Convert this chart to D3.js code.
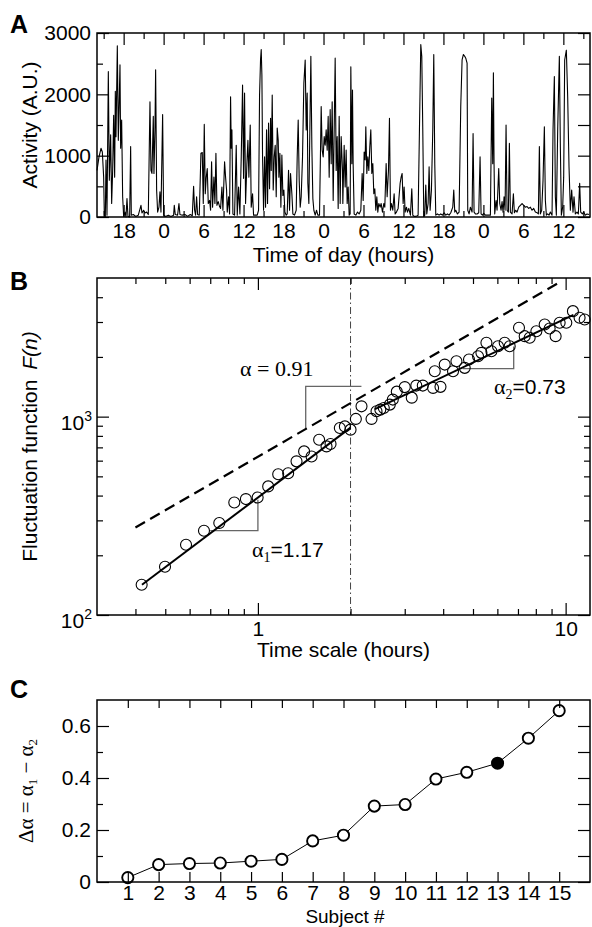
<!DOCTYPE html>
<html><head><meta charset="utf-8">
<script src="https://cdn.jsdelivr.net/npm/d3@7"></script>
<style>
body{margin:0;background:#fff}
svg text{font-family:"Liberation Sans",Arial,Helvetica,sans-serif;fill:#000}
.tick text{font-size:21px}
.serif{font-family:"Liberation Serif","Times New Roman",serif !important}
</style></head><body>
<svg id="chart" width="592" height="927"></svg>
<script>
// ---------- Panel A : activity time series ----------
const activityHours = [
14.0,14.3,14.6,14.8,15.0,15.1,15.25,15.35,15.5,15.7,
15.85,16.05,16.2,16.35,16.5,16.65,16.75,16.85,17.05,17.2,
17.35,17.45,17.55,17.7,17.85,18.0,18.2,18.35,18.5,18.65,
18.9,19.05,19.15,19.45,19.8,20.2,20.6,20.75,21.0,21.2,
21.45,21.7,21.95,22.1,22.25,22.45,22.55,22.7,22.8,22.95,
23.1,23.3,23.45,23.6,23.85,24.0,24.3,24.7,25.1,25.5,
25.6,25.75,26.1,26.3,26.45,26.8,27.2,27.6,28.0,28.3,
28.5,28.65,28.8,28.95,29.1,29.35,29.6,29.8,29.95,30.1,
30.25,30.4,30.55,30.7,30.9,31.05,31.2,31.35,31.55,31.7,
31.85,32.0,32.2,32.4,
32.55,32.75,32.9,33.15,33.3,33.45,33.55,33.75,33.9,34.05,
34.15,34.25,34.4,34.65,34.9,35.05,35.25,35.45,35.65,35.85,
36.0,36.15,36.3,36.5,36.65,36.8,37.0,37.15,37.35,37.5,
37.75,38.05,38.25,38.4,38.55,38.65,38.75,38.85,39.0,39.15,
39.3,39.45,39.6,39.75,39.9,40.05,40.15,40.3,40.45,40.6,
40.75,40.9,41.05,41.2,41.3,41.45,41.6,41.75,41.9,42.05,
42.2,42.4,42.55,42.75,42.9,43.05,43.25,43.4,43.65,43.9,
44.05,44.2,44.35,44.5,44.65,44.85,45.05,45.25,45.4,45.55,
45.65,45.8,45.95,46.1,46.25,46.4,46.55,46.75,46.95,47.15,
47.4,47.65,47.8,47.95,48.1,48.25,48.4,48.55,48.7,48.85,
49.0,49.15,49.3,49.45,49.6,49.75,49.9,50.05,50.2,50.35,
50.5,50.65,50.85,
50.9,51.1,51.25,51.4,51.55,51.7,51.85,52.0,52.1,52.25,
52.35,52.45,52.6,52.85,53.1,53.35,53.6,53.8,53.95,54.1,
54.25,54.35,54.5,54.65,54.8,54.95,55.1,55.25,55.4,55.55,
55.7,55.85,56.0,56.15,56.3,56.5,56.65,56.85,57.05,57.2,
57.4,57.55,57.75,57.9,58.05,58.2,58.4,58.6,58.75,58.95,
59.2,59.5,59.65,59.8,59.95,60.1,60.25,60.45,60.6,60.8,
61.05,61.25,61.4,61.6,61.9,62.2,62.4,62.6,62.75,62.9,
63.05,63.2,63.35,63.5,63.7,63.85,64.0,64.2,64.4,64.55,
64.7,64.85,65.1,65.35,65.6,65.85,66.1,66.35,66.6,66.85,
67.1,67.4,67.55,67.7,67.85,68.1,68.35,68.6,68.8,69.0,
69.2,
69.35,69.55,69.65,69.85,70.05,70.3,70.45,70.6,70.8,71.05,
71.3,71.5,71.65,71.85,72.05,72.3,72.65,73.05,73.25,73.4,
73.5,73.6,73.7,73.9,74.05,74.3,74.45,74.65,74.8,74.95,
75.1,75.25,75.4,75.55,75.75,75.9,76.05,76.3,76.5,76.65,
76.85,77.05,77.3,77.55,77.8,78.05,78.3,78.55,78.8,79.05,
79.3,79.55,79.8,80.05,80.25,80.4,80.55,80.75,80.95,81.15,
81.3,81.45,81.65,81.85,82.05,82.3,82.45,82.65,82.8,82.95,
83.15,83.4,83.55,83.7,83.9,84.05,84.2,84.45,84.65,84.85,
85.05,85.25,85.45,85.6,85.8,86.05,86.25,86.45,86.6,86.85,
87.05,87.3,87.55,87.85
];
const activityValues = [
760,980,1120,1060,650,30,0,930,30,2370,
600,1340,220,760,1660,650,2050,1310,2790,1250,
1960,2480,1120,1580,330,10,80,0,300,10,
0,1150,30,40,10,30,190,65,110,65,
80,40,1880,760,710,1640,710,1420,2400,440,
80,160,410,80,1670,30,10,30,10,30,
190,40,30,220,40,30,40,10,40,20,
500,110,30,330,40,30,1040,1050,220,1510,
380,650,790,220,270,110,900,160,650,220,
1040,190,250,170,
140,490,110,900,650,440,80,330,50,1960,
1120,1420,50,30,1170,30,490,50,980,2150,
630,2020,220,870,1250,650,1500,160,380,30,
30,30,110,1990,2570,2730,2320,980,110,980,
160,1420,220,1530,460,1610,760,1990,440,980,
1170,330,1450,1250,650,1040,160,1010,350,440,
80,30,50,760,110,710,380,50,30,110,
980,1580,600,160,330,980,2180,2560,1420,2020,
550,220,1420,2620,1150,300,110,30,110,30,
30,1800,1090,980,1310,1170,1420,1090,1640,650,
1750,870,1880,270,1420,2590,760,1310,140,1640,
220,1310,760,
220,1170,490,1090,220,490,30,50,2450,870,
2070,850,50,30,80,50,110,710,270,1060,
930,1470,710,980,760,1150,1420,710,870,380,
460,110,330,80,220,160,220,80,220,160,
870,330,760,1610,110,220,110,380,50,80,
140,550,650,710,220,490,80,160,80,140,
30,460,30,10,10,30,1420,2810,2620,1420,
10,30,520,50,220,820,110,440,1420,2650,
870,30,50,30,50,30,70,30,50,30,
70,160,440,80,110,50,80,1800,2560,2650,
2620,
2590,2510,110,50,160,80,1360,80,50,50,
70,980,50,30,60,30,30,30,1940,870,
2350,850,50,270,110,790,220,110,250,80,
330,110,1500,110,80,1200,80,50,380,70,
110,80,160,190,220,190,160,170,140,160,
110,140,80,70,50,1150,50,110,600,1470,
270,30,50,30,80,30,1420,2290,330,30,
1420,2620,1150,30,160,650,2560,2720,1960,820,
110,440,80,330,50,80,50,550,80,50,
80,30,50,40
];
const activityXTicks = [18,24,30,36,42,48,54,60,66,72,78,84];
const activityXLabels = ["18","0","6","12","18","0","6","12","18","0","6","12"];
const activityXMinor = [15,21,27,33,39,45,51,57,63,69,75,81,87];
const activityYTicks = [0,1000,2000,3000];
const activityYMinor = [500,1500,2500];

// ---------- Panel B : DFA fluctuation function ----------
const dfaHours = [
0.419,0.499,0.584,0.668,0.749,0.838,0.914,0.998,1.080,1.164,
1.254,1.335,1.413,1.494,1.581,1.671,1.722,1.846,1.917,2.0,
2.081,2.171,2.340,2.429,2.499,2.565,2.683,2.744,2.827,3.001,
3.162,3.271,3.434,3.709,3.756,3.920,4.047,4.306,4.417,4.699,
4.853,5.192,5.325,5.528,5.739,6.029,6.338,6.580,7.054,7.361,
7.641,8.033,8.549,8.872,9.279,9.561,10.05,10.56,11.10,11.53];
const dfaF = [
142,175,226,266,291,369,384,391,445,512,
518,595,668,630,765,708,728,877,893,860,
974,1127,974,1064,1085,1106,1150,1219,1337,1409,
1247,1434,1434,1396,1693,1413,1830,1693,1902,1762,
1941,2016,2097,2356,2137,2265,2356,2265,2805,2545,
2498,2697,2915,2783,2545,2973,2973,3403,3152,3091];
const fit1Hours = [0.42, 2.0],  fit1F = [142, 880];
const fit2Hours = [2.4, 10.6],  fit2F = [1090, 3260];
const refHours  = [0.4, 9.6],   refF  = [276, 4780];
const tri1Hours = [0.7, 1, 1],       tri1F = [266, 266, 381];
const tri2Hours = [1.43, 1.43, 2.17], tri2F = [860, 1422, 1422];
const tri3Hours = [4.63, 6.78, 6.78], tri3F = [1747, 1747, 2257];
const crossoverHours = 2;
const dfaXTicks = [1, 10];
const dfaXLabels = ["1", "10"];
const dfaXMinor = [0.4,0.5,0.6,0.7,0.8,0.9,2,3,4,5,6,7,8,9];
const dfaYTicks = [100, 1000];
const dfaYExponents = ["2", "3"];
const dfaYMinor = [200,300,400,500,600,700,800,900,2000,3000,4000];

// ---------- Panel C : delta alpha per subject ----------
const subjects = [1,2,3,4,5,6,7,8,9,10,11,12,13,14,15];
const deltaAlpha = [0.017,0.067,0.071,0.073,0.080,0.087,0.158,0.180,0.292,0.298,0.396,0.422,0.457,0.553,0.659];
const highlightedSubject = 13;
const deltaYTicks = [0, 0.2, 0.4, 0.6];
const deltaYLabels = ["0", "0.2", "0.4", "0.6"];
const deltaYMinor = [0.1, 0.3, 0.5];

// ================= drawing =================
const svg = d3.select('#chart');

function ax(g, axis, tr) {
  const a = g.append('g').attr('transform', tr).call(axis);
  a.select('.domain').remove();
  a.selectAll('.tick line').attr('stroke', '#000').attr('stroke-width', 1.2);
  return a;
}
function frame(g, x0, y0, x1, y1) {
  g.append('rect').attr('x', x0).attr('y', y0).attr('width', x1 - x0).attr('height', y1 - y0)
    .attr('fill', 'none').attr('stroke', '#000').attr('stroke-width', 1.5);
}
function panelLabel(t, x, y) {
  svg.append('text').attr('x', x).attr('y', y).attr('font-size', 25).attr('font-weight', 'bold').text(t);
}

// ----- A -----
const A = {l: 97, r: 590, t: 33, b: 217};
const xA = d3.scaleLinear().domain([14, 88]).range([A.l, A.r]);
const yA = d3.scaleLinear().domain([0, 3000]).range([A.b, A.t]);
const gA = svg.append('g');
gA.append('path').datum(d3.range(activityHours.length))
  .attr('fill', 'none').attr('stroke', '#000').attr('stroke-width', 1.1).attr('stroke-linejoin', 'round')
  .attr('d', d3.line().x(i => xA(activityHours[i])).y(i => yA(activityValues[i])));
ax(gA, d3.axisBottom(xA).tickValues(activityXTicks).tickSize(-12).tickPadding(6)
  .tickFormat(d => activityXLabels[activityXTicks.indexOf(d)]), `translate(0,${A.b})`);
ax(gA, d3.axisBottom(xA).tickValues(activityXMinor).tickSize(-6).tickFormat(''), `translate(0,${A.b})`);
ax(gA, d3.axisTop(xA).tickValues(activityXTicks).tickSize(-12).tickFormat(''), `translate(0,${A.t})`);
ax(gA, d3.axisTop(xA).tickValues(activityXMinor).tickSize(-6).tickFormat(''), `translate(0,${A.t})`);
ax(gA, d3.axisLeft(yA).tickValues(activityYTicks).tickSize(-12).tickPadding(6).tickFormat(d3.format('d')), `translate(${A.l},0)`);
ax(gA, d3.axisLeft(yA).tickValues(activityYMinor).tickSize(-6).tickFormat(''), `translate(${A.l},0)`);
ax(gA, d3.axisRight(yA).tickValues(activityYTicks.concat(activityYMinor)).tickSize(-12).tickFormat(''), `translate(${A.r},0)`);
frame(gA, A.l, A.t, A.r, A.b);
gA.append('text').attr('x', (A.l + A.r) / 2).attr('y', 262).attr('text-anchor', 'middle').attr('font-size', 21).text('Time of day (hours)');
gA.append('text').attr('transform', `translate(37,${(A.t + A.b) / 2}) rotate(-90)`).attr('text-anchor', 'middle').attr('font-size', 21).text('Activity (A.U.)');
panelLabel('A', 10, 33);

// ----- B -----
const B = {l: 97, r: 590, t: 278, b: 615};
const xB = d3.scaleLog().domain([0.3, 12]).range([B.l, B.r]);
const yB = d3.scaleLog().domain([100, 5000]).range([B.b, B.t]);
const gB = svg.append('g');
const lineB = (xs, ys) => d3.line().x(i => xB(xs[i])).y(i => yB(ys[i]))(d3.range(xs.length));
gB.append('line').attr('x1', xB(crossoverHours)).attr('x2', xB(crossoverHours)).attr('y1', B.t).attr('y2', B.b)
  .attr('stroke', '#444').attr('stroke-width', 1).attr('stroke-dasharray', '7,3,1.5,3');
[[tri1Hours, tri1F], [tri2Hours, tri2F], [tri3Hours, tri3F]].forEach(([xs, ys]) => {
  gB.append('path').attr('d', lineB(xs, ys)).attr('fill', 'none').attr('stroke', '#666').attr('stroke-width', 1.3);
});
gB.append('path').attr('d', lineB(refHours, refF)).attr('fill', 'none').attr('stroke', '#000')
  .attr('stroke-width', 2.2).attr('stroke-dasharray', '11,6');
gB.append('path').attr('d', lineB(fit1Hours, fit1F)).attr('fill', 'none').attr('stroke', '#000').attr('stroke-width', 2);
gB.append('path').attr('d', lineB(fit2Hours, fit2F)).attr('fill', 'none').attr('stroke', '#000').attr('stroke-width', 2);
gB.selectAll('circle.pt').data(d3.range(dfaHours.length)).enter().append('circle')
  .attr('cx', i => xB(dfaHours[i])).attr('cy', i => yB(dfaF[i])).attr('r', 5.5)
  .attr('fill', 'none').attr('stroke', '#000').attr('stroke-width', 1.1);
ax(gB, d3.axisBottom(xB).tickValues(dfaXTicks).tickSize(-12).tickPadding(6)
  .tickFormat(d => dfaXLabels[dfaXTicks.indexOf(d)]), `translate(0,${B.b})`);
ax(gB, d3.axisBottom(xB).tickValues(dfaXMinor).tickSize(-6).tickFormat(''), `translate(0,${B.b})`);
ax(gB, d3.axisTop(xB).tickValues(dfaXTicks).tickSize(-12).tickFormat(''), `translate(0,${B.t})`);
ax(gB, d3.axisTop(xB).tickValues(dfaXMinor).tickSize(-6).tickFormat(''), `translate(0,${B.t})`);
ax(gB, d3.axisLeft(yB).tickValues(dfaYTicks).tickSize(-12).tickFormat(''), `translate(${B.l},0)`);
ax(gB, d3.axisLeft(yB).tickValues(dfaYMinor).tickSize(-6).tickFormat(''), `translate(${B.l},0)`);
ax(gB, d3.axisRight(yB).tickValues(dfaYTicks).tickSize(-12).tickFormat(''), `translate(${B.r},0)`);
ax(gB, d3.axisRight(yB).tickValues(dfaYMinor).tickSize(-6).tickFormat(''), `translate(${B.r},0)`);
dfaYTicks.forEach((v, i) => {
  const t = gB.append('text').attr('x', 92).attr('y', yB(v) + 13).attr('text-anchor', 'end').attr('font-size', 21);
  t.append('tspan').text('10');
  t.append('tspan').attr('dy', -9).attr('font-size', 14).text(dfaYExponents[i]);
});
frame(gB, B.l, B.t, B.r, B.b);
gB.append('text').attr('x', (B.l + B.r) / 2).attr('y', 657).attr('text-anchor', 'middle').attr('font-size', 21).text('Time scale (hours)');
const tB = gB.append('text').attr('transform', `translate(37,${(B.t + B.b) / 2}) rotate(-90)`).attr('text-anchor', 'middle').attr('font-size', 21);
tB.append('tspan').text('Fluctuation function');
tB.append('tspan').attr('dx', 10).attr('font-style', 'italic').text('F(n)');
// annotations
gB.append('text').attr('class', 'serif').attr('x', 240).attr('y', 376).attr('font-size', 22).text('α = 0.91');
const a1 = gB.append('text').attr('x', 252).attr('y', 557).attr('font-size', 21);
a1.append('tspan').attr('class', 'serif').attr('font-size', 22).text('α');
a1.append('tspan').attr('class', 'serif').attr('font-size', 14).attr('dy', 5).text('1');
a1.append('tspan').attr('dy', -5).text('=1.17');
const a2 = gB.append('text').attr('x', 494).attr('y', 394).attr('font-size', 21);
a2.append('tspan').attr('class', 'serif').attr('font-size', 22).text('α');
a2.append('tspan').attr('class', 'serif').attr('font-size', 14).attr('dy', 5).text('2');
a2.append('tspan').attr('dy', -5).text('=0.73');
panelLabel('B', 10, 290);

// ----- C -----
const C = {l: 97, r: 590, t: 700, b: 882};
const xC = d3.scaleLinear().domain([0, 16]).range([C.l, C.r]);
const yC = d3.scaleLinear().domain([0, 0.7]).range([C.b, C.t]);
const gC = svg.append('g');
gC.append('path').datum(d3.range(subjects.length)).attr('fill', 'none').attr('stroke', '#000').attr('stroke-width', 1)
  .attr('d', d3.line().x(i => xC(subjects[i])).y(i => yC(deltaAlpha[i])));
gC.selectAll('circle.s').data(d3.range(subjects.length)).enter().append('circle')
  .attr('cx', i => xC(subjects[i])).attr('cy', i => yC(deltaAlpha[i])).attr('r', 5.6)
  .attr('fill', i => subjects[i] === highlightedSubject ? '#000' : '#fff')
  .attr('stroke', '#000').attr('stroke-width', 1.9);
ax(gC, d3.axisBottom(xC).tickValues(subjects).tickSize(-10).tickPadding(3).tickFormat(d3.format('d')), `translate(0,${C.b})`);
ax(gC, d3.axisTop(xC).tickValues(subjects).tickSize(-8).tickFormat(''), `translate(0,${C.t})`);
ax(gC, d3.axisLeft(yC).tickValues(deltaYTicks).tickSize(-12).tickPadding(6)
  .tickFormat(d => deltaYLabels[deltaYTicks.indexOf(d)]), `translate(${C.l},0)`);
ax(gC, d3.axisLeft(yC).tickValues(deltaYMinor).tickSize(-6).tickFormat(''), `translate(${C.l},0)`);
ax(gC, d3.axisRight(yC).tickValues(deltaYTicks.concat(deltaYMinor)).tickSize(-12).tickFormat(''), `translate(${C.r},0)`);
frame(gC, C.l, C.t, C.r, C.b);
gC.append('text').attr('x', 345).attr('y', 922.5).attr('text-anchor', 'middle').attr('font-size', 19).text('Subject #');
const tC = gC.append('text').attr('class', 'serif').attr('transform', `translate(33,${(C.t + C.b) / 2}) rotate(-90)`)
  .attr('text-anchor', 'middle').attr('font-size', 21);
tC.append('tspan').text('Δα = α');
tC.append('tspan').attr('font-size', 13).attr('dy', 4).text('1');
tC.append('tspan').attr('dy', -4).text(' − α');
tC.append('tspan').attr('font-size', 13).attr('dy', 4).text('2');
panelLabel('C', 10, 698);
</script>
</body></html>
